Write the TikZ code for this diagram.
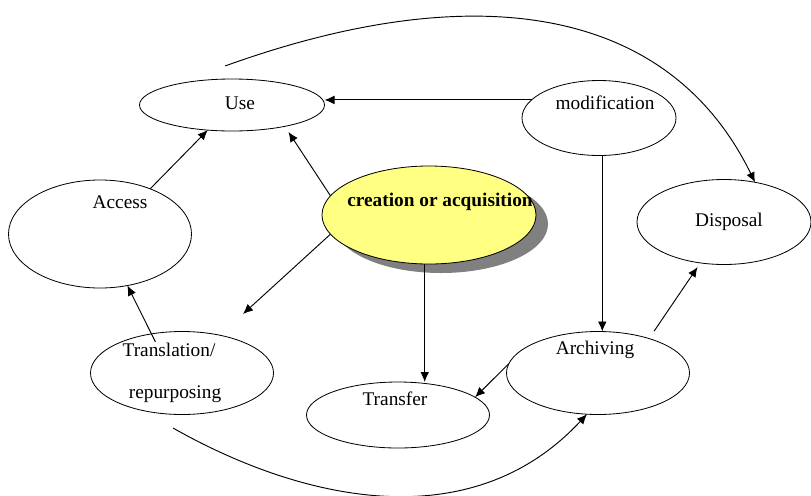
\documentclass[tikz,border=0pt]{standalone}
\usepackage{fontspec}
\setmainfont{Liberation Serif}
\usetikzlibrary{shapes.geometric}
\usetikzlibrary{arrows.meta}
\usetikzlibrary{shadows}

\begin{document}
\begin{tikzpicture}[x=0.03cm, y=-0.03cm]

\tikzset{my-ellipse/.style={ellipse, draw, line width=0.7pt, inner sep=0pt, outer sep=0pt},
         my-label/.style={font=\fontsize{16.5}{19}\selectfont, inner sep=0pt},
         my-arrow/.style={draw, line width=0.8pt, -{Latex[length=3mm,width=2.6mm]}}}

\useasboundingbox (0,0) rectangle (811,495);

\node (use) [my-ellipse, minimum width=5.55cm, minimum height=1.56cm] at (232,105) {};
\node (mod) [my-ellipse, minimum width=4.62cm, minimum height=2.25cm] at (599,118) {};
\node (access) [my-ellipse, minimum width=5.49cm, minimum height=3.24cm] at (100,234) {};
\node (create) [my-ellipse, minimum width=6.42cm, minimum height=2.94cm,
                fill={rgb,255:red,255;green,255;blue,130},
                drop shadow={shadow xshift=0.36cm, shadow yshift=-0.27cm, fill=black!50, opacity=1}] at (429,215) {};
\node (disp) [my-ellipse, minimum width=5.22cm, minimum height=2.55cm] at (724,222) {};
\node (trans) [my-ellipse, minimum width=5.49cm, minimum height=2.49cm] at (182,373) {};
\node (transfer) [my-ellipse, minimum width=5.49cm, minimum height=1.98cm] at (398,415) {};
\node (arch) [my-ellipse, minimum width=5.49cm, minimum height=2.49cm] at (598,373) {};

\node (use-txt) [my-label] at (240,103) {Use};
\node (mod-txt) [my-label] at (605,103) {modification};
\node (access-txt) [my-label] at (120,202) {Access};
\node (create-txt) [my-label, font=\fontsize{16.5}{19}\selectfont\bfseries] at (440,202) {creation or acquisition};
\node (disp-txt) [my-label] at (729,222) {Disposal};
\node (trans-txt) [my-label] at (169,350) {Translation/};
\node (trans-txt2) [my-label] at (175,394) {repurposing};
\node (transfer-txt) [my-label] at (395,399) {Transfer};
\node (arch-txt) [my-label] at (595,350) {Archiving};

\coordinate (tip) at (243,314);
\coordinate (top) at (225,66);
\coordinate (bottom) at (173,428);

\draw[my-arrow] (mod.165) -- (mod.165 -| use.east);
\draw[my-arrow] (access.42) -- (use.226);
\draw[my-arrow, shorten >=0.2cm] (create.169) -- (use.-22);
\draw[my-arrow] (create.191) -- (tip);
\draw[my-arrow] (create.-95) -- (create.-95 |- transfer.north);
\draw[my-arrow] (mod.-85) -- (mod.-85 |- arch.north);
\draw[my-arrow] (arch.174) -- (transfer.13);
\draw[my-arrow, shorten <=0.27cm, shorten >=0.15cm] (arch.34) -- (disp.-120);
\draw[my-arrow, shorten <=-0.27cm] (trans.128) -- (access.-62);
\draw[my-arrow] (top) .. controls (469,-22) and (667,2) .. (disp.52);
\draw[my-arrow] (bottom) .. controls (300,500) and (470,540) .. (arch.-105);

\end{tikzpicture}
\end{document}
